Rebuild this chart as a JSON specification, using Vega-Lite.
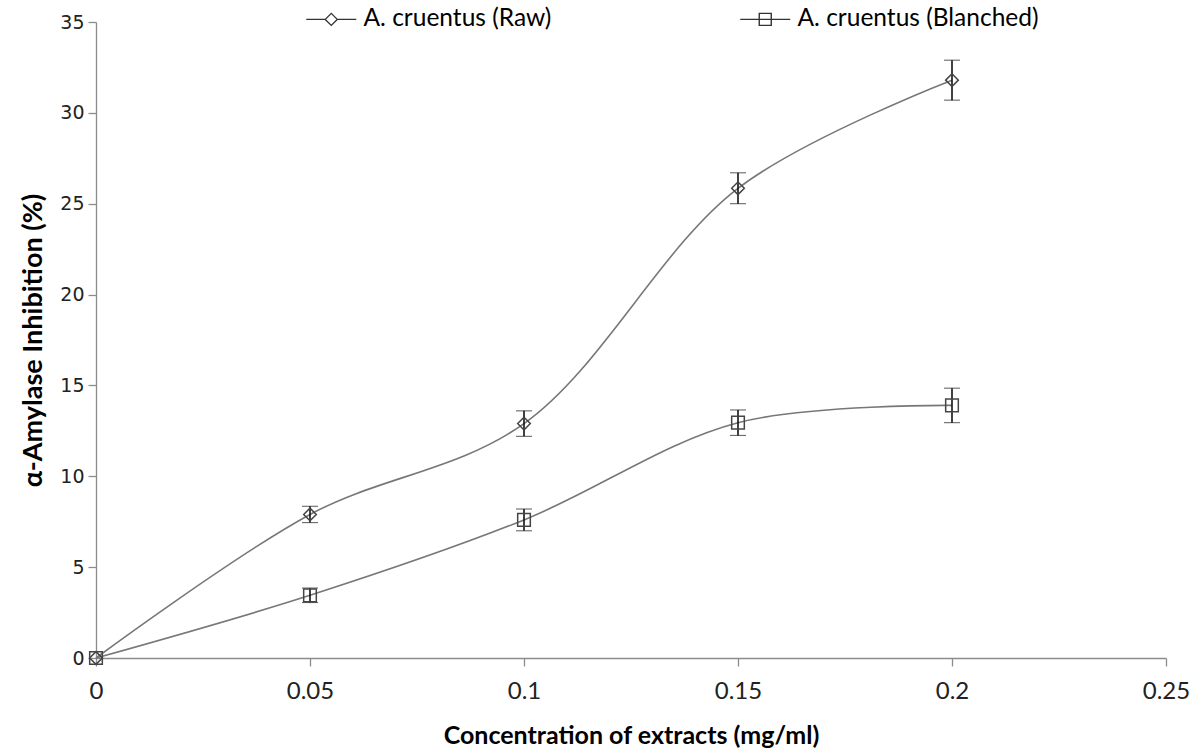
{
  "$schema": "https://vega.github.io/schema/vega-lite/v6.json",
  "width": 1070,
  "height": 636,
  "autosize": {"type": "none"},
  "padding": {"left": 96, "top": 22, "right": 36, "bottom": 93},
  "background": "white",
  "config": {
    "view": {"stroke": null},
    "axis": {
      "grid": false,
      "domainColor": "#8c8c8c",
      "domainWidth": 1.3,
      "tickColor": "#8c8c8c",
      "tickWidth": 1.3,
      "tickSize": 8,
      "labelColor": "#222",
      "titleColor": "#000",
      "titleFont": "Lato",
      "titleFontWeight": "bold",
      "titleFontSize": 25
    }
  },
  "data": {
    "values": [
      {"series": "A. cruentus (Raw)", "conc": 0, "value": 0, "err": 0},
      {"series": "A. cruentus (Raw)", "conc": 0.05, "value": 7.9, "err": 0.45},
      {"series": "A. cruentus (Raw)", "conc": 0.1, "value": 12.9, "err": 0.7},
      {"series": "A. cruentus (Raw)", "conc": 0.15, "value": 25.85, "err": 0.85},
      {"series": "A. cruentus (Raw)", "conc": 0.2, "value": 31.8, "err": 1.1},
      {"series": "A. cruentus (Blanched)", "conc": 0, "value": 0, "err": 0},
      {"series": "A. cruentus (Blanched)", "conc": 0.05, "value": 3.45, "err": 0.4},
      {"series": "A. cruentus (Blanched)", "conc": 0.1, "value": 7.6, "err": 0.6},
      {"series": "A. cruentus (Blanched)", "conc": 0.15, "value": 12.95, "err": 0.7},
      {"series": "A. cruentus (Blanched)", "conc": 0.2, "value": 13.9, "err": 0.95}
    ]
  },
  "encoding": {
    "x": {
      "field": "conc",
      "type": "quantitative",
      "scale": {"domain": [0, 0.25], "nice": false, "zero": true},
      "axis": {
        "values": [0, 0.05, 0.1, 0.15, 0.2, 0.25],
        "format": "~g",
        "title": "Concentration of extracts (mg/ml)",
        "labelFont": "Lato",
        "labelFontSize": 24,
        "labelFlush": false,
        "labelPadding": 13,
        "titlePadding": 20
      }
    },
    "y": {
      "field": "value",
      "type": "quantitative",
      "scale": {"domain": [0, 35], "nice": false},
      "axis": {
        "values": [0, 5, 10, 15, 20, 25, 30, 35],
        "title": "α-Amylase Inhibition (%)",
        "titleFontSize": 27,
        "labelFont": "DejaVu Sans",
        "labelFontSize": 19,
        "labelPadding": 4,
        "titlePadding": 12
      }
    }
  },
  "layer": [
    {
      "mark": {"type": "line", "interpolate": "catmull-rom", "strokeWidth": 1.6, "color": "#777777"},
      "encoding": {"detail": {"field": "series", "type": "nominal"}}
    },
    {
      "transform": [{"filter": "datum.err > 0"}],
      "mark": {
        "type": "errorbar",
        "ticks": {"size": 16, "color": "#111", "strokeWidth": 1.6},
        "rule": {"color": "#111", "strokeWidth": 1.6}
      },
      "encoding": {"yError": {"field": "err"}}
    },
    {
      "mark": {"type": "point", "filled": false, "size": 160, "strokeWidth": 1.5, "color": "#444", "opacity": 1},
      "encoding": {
        "shape": {
          "field": "series",
          "type": "nominal",
          "scale": {
            "domain": ["A. cruentus (Raw)", "A. cruentus (Blanched)"],
            "range": ["diamond", "square"]
          },
          "legend": null
        }
      }
    },
    {
      "mark": {"type": "point", "filled": false, "size": 100, "strokeWidth": 1.4, "color": "#333", "opacity": 0},
      "encoding": {
        "shape": {
          "field": "series",
          "type": "nominal",
          "scale": {
            "domain": ["A. cruentus (Raw)", "A. cruentus (Blanched)"],
            "range": [
              "M-5,0L-1.2,0M-1.2,0L0,-1.2L1.2,0L0,1.2ZM1.2,0L5,0",
              "M-5,0L5,0M-1.2,-1.2L1.2,-1.2L1.2,1.2L-1.2,1.2Z"
            ]
          },
          "legend": {
            "orient": "none",
            "legendX": 223,
            "legendY": -15,
            "direction": "horizontal",
            "title": null,
            "labelFont": "Lato",
            "labelFontSize": 24.5,
            "labelColor": "#000",
            "labelLimit": 600,
            "symbolSize": 100,
            "symbolOpacity": 1,
            "symbolStrokeWidth": 1.4,
            "symbolStrokeColor": "#333",
            "labelOffset": 20,
            "columnPadding": 185
          }
        }
      }
    }
  ],
  "resolve": {"scale": {"shape": "independent"}, "legend": {"shape": "independent"}}
}
